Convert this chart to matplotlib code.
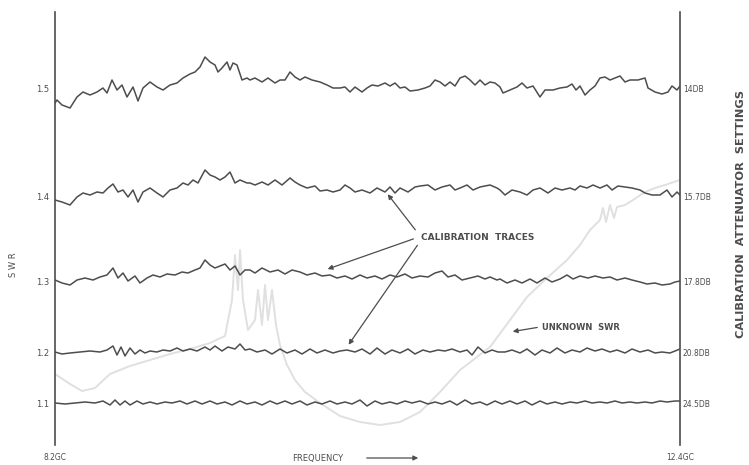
import matplotlib
matplotlib.use("Agg")
import matplotlib.pyplot as plt

# Chart positions are in recorder chart units (sweep across, pen deflection down)
swr_labels = ["1.5", "1.4", "1.3", "1.2", "1.1"]
atten_labels = ["14DB", "15.7DB", "17.8DB", "20.8DB", "24.5DB"]
trace_levels = [88, 196, 281, 352, 403]
freq_labels = ["8.2GC", "12.4GC"]
sweep_ends = [55, 680]

# calibration trace, SWR 1.5 / 14 dB
cal_15_x = [55, 57, 62, 70, 77, 83, 90, 97, 103, 107, 112, 117, 122, 127, 133, 138, 143, 150,
            157, 163, 170, 177, 183, 190, 195, 200, 205, 210, 215, 218, 222, 227, 230, 233, 237,
            242, 247, 250, 255, 262, 268, 275, 280, 285, 290, 295, 300, 305, 312, 320, 327, 333,
            340, 345, 350, 355, 362, 367, 372, 378, 385, 390, 395, 400, 405, 410, 418, 425, 430,
            435, 440, 445, 450, 455, 460, 465, 470, 475, 480, 485, 490, 495, 500, 503, 510, 517,
            522, 527, 533, 540, 545, 553, 560, 567, 572, 576, 580, 585, 590, 595, 600, 605, 610,
            615, 620, 625, 630, 638, 645, 648, 655, 662, 668, 672, 677, 680]
cal_15_y = [103, 100, 105, 108, 97, 92, 95, 92, 88, 93, 80, 90, 85, 97, 87, 101, 88, 82,
            87, 90, 85, 83, 78, 74, 72, 67, 57, 62, 65, 72, 68, 62, 70, 63, 65,
            80, 78, 80, 78, 82, 78, 83, 80, 80, 72, 77, 80, 77, 80, 82, 85, 88,
            88, 87, 92, 87, 92, 88, 85, 86, 83, 86, 83, 88, 87, 91, 90, 88, 86,
            80, 82, 86, 82, 86, 78, 76, 80, 85, 80, 85, 82, 83, 87, 93, 90, 87,
            83, 88, 86, 97, 90, 90, 88, 87, 84, 90, 86, 95, 90, 86, 78, 77, 80,
            78, 76, 82, 80, 80, 78, 88, 92, 94, 92, 86, 90, 86]

# calibration trace, SWR 1.4 / 15.7 dB
cal_14_x = [55, 62, 70, 77, 83, 90, 97, 103, 108, 113, 118, 123, 128, 133, 138, 143, 150, 157,
            163, 170, 177, 183, 188, 193, 198, 205, 210, 215, 220, 225, 230, 235, 240, 247, 250,
            255, 262, 268, 275, 282, 290, 295, 300, 307, 315, 320, 327, 333, 340, 345, 350, 355,
            362, 370, 377, 385, 390, 395, 400, 408, 415, 420, 428, 435, 442, 450, 455, 460, 467,
            473, 480, 490, 497, 500, 505, 512, 520, 527, 533, 540, 548, 555, 562, 570, 575, 580,
            587, 593, 600, 607, 612, 618, 625, 632, 640, 645, 652, 660, 667, 672, 677, 680]
cal_14_y = [200, 202, 205, 197, 193, 195, 192, 193, 188, 184, 192, 190, 197, 190, 202, 192, 188, 193,
            197, 190, 188, 183, 185, 180, 183, 170, 175, 177, 180, 177, 172, 183, 180, 183, 183,
            185, 182, 185, 180, 185, 178, 182, 185, 188, 186, 191, 190, 192, 190, 185, 188, 192,
            190, 193, 188, 192, 187, 193, 188, 192, 187, 186, 185, 190, 187, 185, 190, 188, 185,
            190, 187, 185, 188, 190, 195, 190, 192, 195, 190, 188, 193, 188, 190, 188, 190, 186,
            188, 185, 188, 185, 190, 186, 187, 188, 190, 193, 195, 195, 190, 197, 192, 195]

# calibration trace, SWR 1.3 / 17.8 dB
cal_13_x = [55, 62, 70, 77, 85, 93, 100, 107, 113, 118, 123, 128, 135, 140, 147, 153, 160, 167,
            175, 182, 188, 195, 200, 205, 210, 215, 220, 225, 230, 235, 240, 245, 250, 255, 262,
            270, 278, 285, 292, 300, 307, 315, 322, 330, 337, 345, 352, 360, 367, 375, 382, 390,
            397, 405, 412, 420, 428, 435, 442, 448, 455, 462, 470, 478, 485, 490, 497, 500, 507,
            515, 522, 530, 537, 545, 552, 560, 567, 573, 580, 588, 595, 603, 610, 617, 625, 632,
            640, 647, 655, 662, 670, 675, 680]
cal_13_y = [280, 283, 285, 280, 278, 280, 277, 275, 268, 278, 273, 281, 276, 283, 278, 275, 277, 274,
            275, 272, 273, 270, 268, 260, 265, 268, 266, 264, 270, 266, 275, 270, 270, 273, 268,
            272, 270, 274, 270, 272, 275, 273, 276, 275, 278, 276, 279, 275, 278, 276, 279, 275,
            277, 274, 278, 276, 277, 273, 271, 277, 275, 280, 278, 276, 279, 277, 280, 279, 283,
            280, 283, 279, 283, 278, 282, 279, 275, 279, 276, 278, 276, 278, 277, 280, 278, 280,
            282, 284, 283, 285, 284, 282, 281]

# calibration trace, SWR 1.2 / 20.8 dB
cal_12_x = [55, 62, 70, 80, 90, 100, 107, 113, 117, 121, 125, 130, 135, 140, 145, 150, 157, 163,
            170, 177, 183, 190, 197, 205, 210, 215, 222, 228, 235, 240, 245, 250, 257, 265, 272,
            280, 287, 295, 302, 310, 317, 325, 333, 340, 347, 355, 362, 370, 377, 385, 392, 400,
            408, 415, 423, 430, 438, 445, 452, 460, 467, 472, 478, 485, 492, 498, 505, 512, 520,
            527, 535, 542, 550, 557, 565, 572, 580, 587, 595, 602, 610, 617, 625, 632, 640, 648,
            655, 662, 670, 675, 680]
cal_12_y = [352, 354, 353, 352, 351, 352, 350, 346, 355, 347, 356, 348, 354, 350, 353, 351, 352, 350,
            351, 348, 351, 349, 351, 347, 350, 346, 351, 347, 349, 344, 350, 349, 352, 350, 354,
            349, 353, 350, 354, 349, 353, 350, 353, 351, 350, 352, 349, 354, 348, 354, 350, 353,
            349, 354, 350, 352, 350, 351, 349, 352, 350, 355, 347, 353, 350, 352, 352, 350, 353,
            349, 355, 350, 353, 348, 353, 350, 352, 348, 351, 349, 352, 350, 353, 349, 352, 350,
            353, 352, 353, 351, 349]

# calibration trace, SWR 1.1 / 24.5 dB
cal_11_x = [55, 65, 75, 85, 95, 103, 110, 115, 120, 125, 130, 137, 143, 150, 157, 165, 172, 180,
            187, 195, 202, 210, 217, 225, 232, 240, 247, 255, 262, 270, 277, 285, 292, 300, 307,
            315, 322, 330, 337, 345, 352, 360, 367, 375, 382, 390, 397, 405, 412, 420, 428, 435,
            442, 450, 457, 465, 472, 480, 487, 495, 502, 510, 517, 525, 532, 540, 547, 555, 562,
            570, 577, 585, 592, 600, 607, 615, 622, 630, 637, 645, 652, 660, 667, 675, 680]
cal_11_y = [403, 404, 403, 402, 403, 401, 405, 400, 405, 401, 405, 401, 404, 402, 404, 402, 403, 401,
            404, 401, 404, 401, 404, 402, 405, 401, 404, 402, 405, 401, 404, 401, 404, 401, 405,
            402, 404, 401, 404, 402, 404, 400, 406, 401, 404, 402, 404, 401, 403, 401, 404, 402,
            404, 401, 405, 400, 404, 402, 405, 401, 404, 401, 404, 401, 405, 401, 404, 402, 404,
            402, 403, 401, 403, 402, 403, 401, 403, 402, 403, 402, 403, 401, 402, 401, 401]

# unknown SWR trace (faint)
unknown_x = [55, 70, 82, 95, 110, 130, 150, 170, 190, 210, 225, 232, 235, 238, 240, 243, 248,
             255, 258, 262, 265, 268, 272, 276, 280, 287, 295, 305, 320, 340, 360, 380, 400,
             420, 440, 460, 490, 510, 527, 547, 567, 580, 590, 600, 603, 606, 610, 614, 617,
             625, 633, 645, 655, 665, 680]
unknown_y = [374, 384, 391, 388, 374, 366, 360, 354, 349, 343, 336, 300, 255, 290, 250, 300, 330,
             320, 290, 325, 285, 320, 290, 325, 345, 365, 380, 392, 403, 416, 422, 425, 422,
             412, 392, 370, 347, 320, 297, 278, 260, 245, 230, 220, 208, 222, 205, 218, 207,
             205, 200, 192, 188, 185, 180]

ink = "#4d4d4d"
faint = "#e0e0e0"

fig = plt.figure(figsize=(7.49, 4.65), dpi=100)
fig.patch.set_facecolor("white")
ax = fig.add_axes([55 / 749, 20 / 465, 625 / 749, 433 / 465])

ax.plot(unknown_x, unknown_y, color=faint, lw=1.4, zorder=1)
for xs, ys in [(cal_15_x, cal_15_y), (cal_14_x, cal_14_y), (cal_13_x, cal_13_y),
               (cal_12_x, cal_12_y), (cal_11_x, cal_11_y)]:
    ax.plot(xs, ys, color=ink, lw=1.1, zorder=2)

ax.set_xlim(55, 680)
ax.set_ylim(445, 12)
for side in ["top", "bottom"]:
    ax.spines[side].set_visible(False)
for side in ["left", "right"]:
    ax.spines[side].set_color(ink)
    ax.spines[side].set_linewidth(1.2)

ax.set_yticks(trace_levels)
ax.set_yticklabels(swr_labels, fontsize=6, color=ink)
ax.tick_params(axis="y", length=0, pad=4)
ax.set_xticks(sweep_ends)
ax.set_xticklabels(freq_labels, fontsize=5.5, color=ink)
ax.tick_params(axis="x", length=0, pad=6)

ax2 = ax.twinx()
ax2.set_ylim(445, 12)
ax2.set_yticks(trace_levels)
ax2.set_yticklabels(atten_labels, fontsize=5.5, color=ink)
ax2.tick_params(axis="y", length=0, pad=2)
for side in ["top", "bottom", "left", "right"]:
    ax2.spines[side].set_visible(False)

# axis titles placed where the scan has them
fig.text(13 / 749, 1 - 265 / 465, "S W R", fontsize=6, color=ink, rotation=90,
         ha="center", va="center")
fig.text(741 / 749, 1 - 214 / 465, "CALIBRATION  ATTENUATOR  SETTINGS", fontsize=8.2,
         color=ink, rotation=90, ha="center", va="center", fontweight="bold")

# labels and arrows
arrow = dict(arrowstyle="-|>", color=ink, lw=0.9, mutation_scale=7)
ax.text(421, 237, "CALIBRATION  TRACES", fontsize=6.5, color=ink, fontweight="bold",
        va="center", ha="left")
ax.annotate("", xy=(386, 192), xytext=(417, 232), arrowprops=arrow)
ax.annotate("", xy=(325, 270), xytext=(416, 238), arrowprops=arrow)
ax.annotate("", xy=(347, 347), xytext=(419, 243), arrowprops=arrow)
ax.text(542, 327, "UNKNOWN  SWR", fontsize=6, color=ink, fontweight="bold",
        va="center", ha="left")
ax.annotate("", xy=(510, 332), xytext=(540, 327), arrowprops=arrow)
ax.text(318, 458, "FREQUENCY", fontsize=6, color=ink, va="center", ha="center")
ax.annotate("", xy=(421, 458), xytext=(364, 458), arrowprops=arrow, annotation_clip=False)

fig.savefig("out.png", dpi=100)
